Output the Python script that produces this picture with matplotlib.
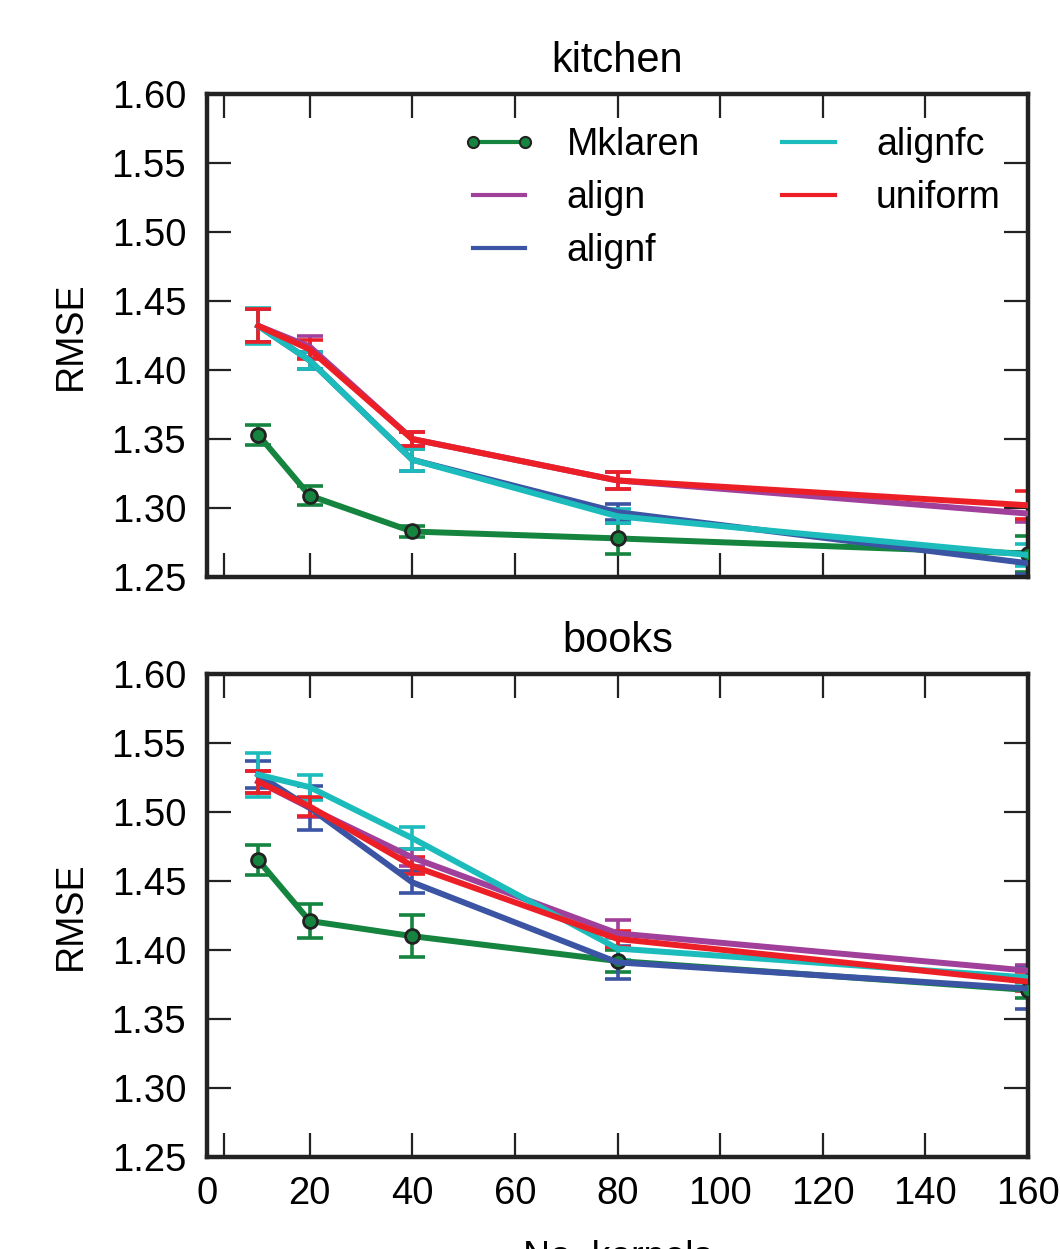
import matplotlib
matplotlib.use("Agg")
import matplotlib.pyplot as plt
from matplotlib.lines import Line2D

# ---------------- data ----------------
kernels = [10, 20, 40, 80, 160]
methods = ["Mklaren", "align", "alignf", "alignfc", "uniform"]
colors = {"Mklaren": "#15843f", "align": "#a0409b", "alignf": "#3b54a3",
          "alignfc": "#1cbcbc", "uniform": "#ed1f26"}

kitchen_mean = {
    "Mklaren": [1.353, 1.309, 1.283, 1.278, 1.267],
    "align":   [1.432, 1.417, 1.350, 1.320, 1.296],
    "alignf":  [1.432, 1.407, 1.335, 1.297, 1.260],
    "alignfc": [1.432, 1.407, 1.335, 1.294, 1.266],
    "uniform": [1.432, 1.415, 1.350, 1.320, 1.302],
}
kitchen_err = {
    "Mklaren": [0.007, 0.007, 0.004, 0.011, 0.013],
    "align":   [0.012, 0.008, 0.005, 0.006, 0.006],
    "alignf":  [0.012, 0.006, 0.008, 0.006, 0.008],
    "alignfc": [0.013, 0.006, 0.008, 0.005, 0.008],
    "uniform": [0.012, 0.007, 0.005, 0.006, 0.010],
}
books_mean = {
    "Mklaren": [1.465, 1.421, 1.410, 1.392, 1.371],
    "align":   [1.522, 1.503, 1.467, 1.412, 1.385],
    "alignf":  [1.527, 1.503, 1.449, 1.391, 1.372],
    "alignfc": [1.527, 1.518, 1.481, 1.401, 1.380],
    "uniform": [1.522, 1.504, 1.461, 1.408, 1.377],
}
books_err = {
    "Mklaren": [0.011, 0.012, 0.015, 0.008, 0.006],
    "align":   [0.008, 0.007, 0.006, 0.010, 0.004],
    "alignf":  [0.010, 0.016, 0.008, 0.012, 0.015],
    "alignfc": [0.016, 0.009, 0.008, 0.008, 0.006],
    "uniform": [0.008, 0.007, 0.006, 0.006, 0.007],
}
titles = ["kitchen", "books"]
xticks = [0, 20, 40, 60, 80, 100, 120, 140, 160]
yticks = [1.25, 1.30, 1.35, 1.40, 1.45, 1.50, 1.55, 1.60]

# ---------------- style ----------------
plt.rcParams["font.family"] = ["Liberation Sans", "DejaVu Sans"]
plt.rcParams["font.size"] = 27

fig = plt.figure(figsize=(10.6, 12.49), dpi=100)
ax_top = fig.add_axes([0.1953, 0.5380, 0.7745, 0.3867])
ax_bot = fig.add_axes([0.1953, 0.0737, 0.7745, 0.3867])

for ax, title, means, errs in [(ax_top, titles[0], kitchen_mean, kitchen_err),
                               (ax_bot, titles[1], books_mean, books_err)]:
    for m in methods:
        c = colors[m]
        ax.errorbar(kernels, means[m], yerr=errs[m], fmt="none", ecolor=c,
                    elinewidth=2.6, capsize=9.5, capthick=2.6, zorder=2)
        if m == "Mklaren":
            ax.plot(kernels, means[m], color=c, lw=4.3, marker="o", ms=10,
                    mfc=c, mec="#222222", mew=2, zorder=3)
        else:
            ax.plot(kernels, means[m], color=c, lw=4.3, zorder=3)
    ax.set_xlim(0, 160)
    ax.set_ylim(1.25, 1.60)
    ax.set_xticks(xticks)
    ax.set_xticks([3.3], minor=True)
    ax.set_yticks(yticks)
    ax.set_yticklabels(["%.2f" % v for v in yticks])
    ax.tick_params(which="both", direction="in", length=17, width=1.6,
                   top=True, right=True, color="#222222", labelsize=27.5)
    ax.tick_params(axis="y", pad=15)
    ax.tick_params(axis="x", pad=14)
    for s in ax.spines.values():
        s.set_linewidth(3.2)
        s.set_color("#222222")
    ax.set_title(title, fontsize=30, pad=16)
    ax.set_ylabel("RMSE", fontsize=27, labelpad=16)

ax_top.tick_params(labelbottom=False)
ax_bot.set_xticklabels([str(v) for v in xticks])
ax_bot.set_xlabel("No. kernels", fontsize=27, labelpad=20)

handles = []
for m in methods:
    if m == "Mklaren":
        handles.append(Line2D([], [], color=colors[m], lw=3, marker="o", ms=8,
                              mfc=colors[m], mec="#222222", mew=1.5))
    else:
        handles.append(Line2D([], [], color=colors[m], lw=3))
ax_top.legend(handles, methods, ncol=2, frameon=False, numpoints=2,
              loc="upper right", bbox_to_anchor=(1.0, 0.9876), fontsize=27,
              handlelength=2.0, handletextpad=0.8, columnspacing=1.9,
              labelspacing=0.45, borderaxespad=0.32)

fig.savefig("out.png", dpi=100)
